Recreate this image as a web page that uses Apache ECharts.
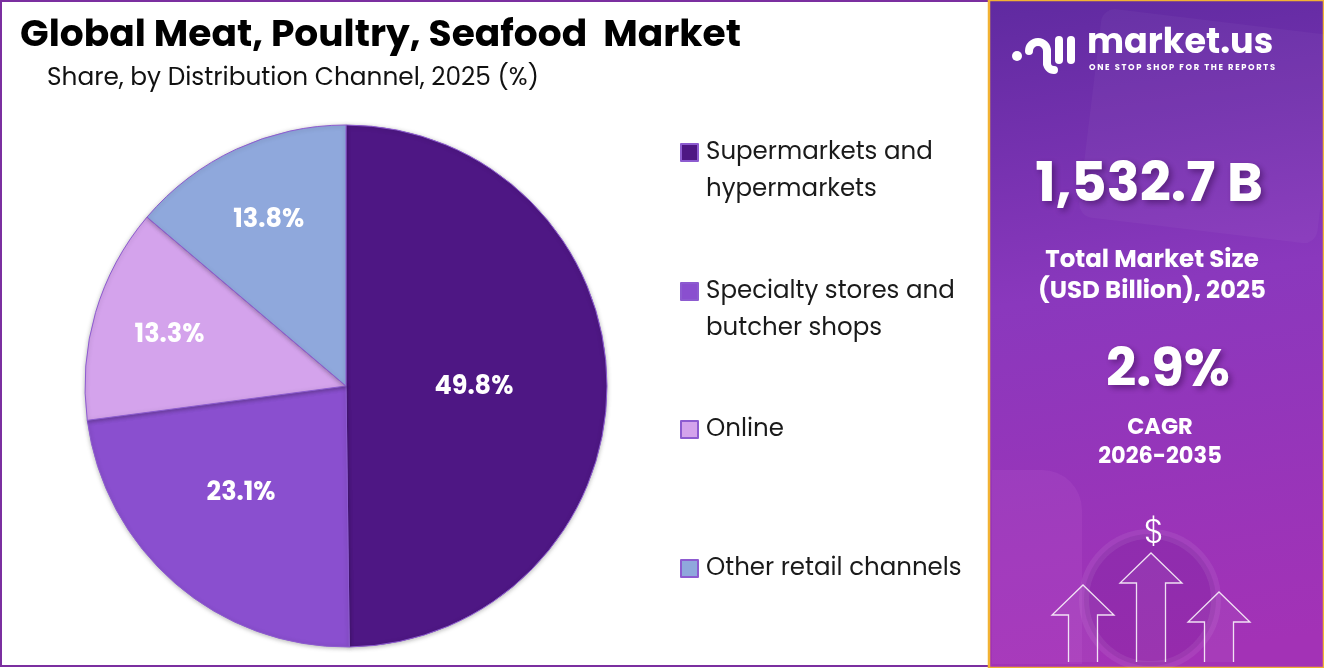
<!DOCTYPE html>
<html>
<head>
	<meta charset="UTF-8">
	<title>Global Meat, Poultry, Seafood Market</title>
	<script type="text/javascript" src="https://cdn.jsdelivr.net/npm/echarts@6/dist/echarts.min.js"></script>
	<style>
		html, body { margin: 0; padding: 0; background: #fff; }
		#chart_box { width: 1324px; height: 668px; }
	</style>
</head>
<body>
<div id="chart_box"></div>
<script>
	// 数据
	var channelNames = ['Supermarkets and\nhypermarkets', 'Specialty stores and\nbutcher shops', 'Online', 'Other retail channels'];
	var channelShares = [49.8, 23.1, 13.3, 13.8];
	var channelColors = ['#4e1784', '#8a4fcf', '#d4a3ec', '#8fa8dc'];
	var marketSize = '1,532.7 B';
	var cagrValue = '2.9%';
	var cagrPeriod = '2026-2035';

	var fontMain = 'Poppins, Inter, "Open Sans", sans-serif';
	var pieCenter = [346, 386];
	var pieRadius = 261;
	var labelDist = [0.49, 0.57, 0.705, 0.705];   // 标签到圆心的距离（半径比例）
	var labelTurn = [0, 0.07, 0, 0];              // 标签角度微调（弧度）
	var legendTops = [97, 236, 411, 550];

	var total = channelShares.reduce(function (a, b) { return a + b; }, 0);
	var midAngles = [];
	var acc = 0;
	channelShares.forEach(function (v) {
		midAngles.push((acc + v / 2) / total * Math.PI * 2);
		acc += v;
	});

	var myChart = echarts.init(document.getElementById('chart_box'));

	// 图例：每项单独一个，两行的项前面加空行，使第一行与色块对齐
	var legends = channelNames.map(function (name, i) {
		return {
			orient: 'vertical',
			left: 680,
			top: legendTops[i],
			padding: 0,
			itemWidth: 17,
			itemHeight: 17,
			itemGap: 0,
			icon: 'rect',
			selectedMode: false,
			data: [name],
			formatter: function (n) {
				return n.indexOf('\n') >= 0 ? '\n' + n : n;
			},
			textStyle: {
				fontFamily: fontMain,
				fontSize: 24.5,
				lineHeight: 37,
				color: '#1a1a1a',
				padding: [0, 0, 0, 3]
			}
		};
	});

	// 右侧面板装饰箭头
	function arrow(cx, tipY, baseY) {
		var hw = 31, sw = 14.5, headH = 30;
		return {
			type: 'polyline',
			z: 5,
			shape: {
				points: [
					[cx - sw, baseY], [cx - sw, tipY + headH], [cx - hw, tipY + headH], [cx, tipY],
					[cx + hw, tipY + headH], [cx + sw, tipY + headH], [cx + sw, baseY]
				]
			},
			style: { stroke: 'rgba(255,255,255,0.85)', lineWidth: 1.3, fill: 'rgba(255,255,255,0.05)' }
		};
	}

	var tagline = 'ONE STOP SHOP FOR THE REPORTS'.split('').join('\u2009');

	var option = {
		backgroundColor: '#ffffff',
		color: channelColors,
		animation: false,
		title: [{
			text: 'Global Meat, Poultry, Seafood  Market',
			left: 15,
			top: 13,
			textStyle: { fontFamily: fontMain, fontSize: 37.6, fontWeight: 'bold', color: '#000' }
		}, {
			text: 'Share, by Distribution Channel, 2025 (%)',
			left: 42,
			top: 61,
			textStyle: { fontFamily: fontMain, fontSize: 24.8, fontWeight: 'normal', color: '#111' }
		}],
		legend: legends,
		graphic: [
			// 左侧紫色边框
			{ type: 'rect', shape: { x: 1, y: 1, width: 988, height: 665 }, style: { fill: 'none', stroke: '#7b2fa0', lineWidth: 2 }, z: 0 },
			// 右侧面板
			{
				type: 'rect', shape: { x: 989, y: 0, width: 335, height: 668 },
				style: {
					fill: new echarts.graphic.LinearGradient(0, 0, 0.3, 1, [
						{ offset: 0, color: '#5f2aa0' },
						{ offset: 0.45, color: '#8a38bd' },
						{ offset: 1, color: '#a332b6' }
					]),
					stroke: '#f2b233', lineWidth: 2.5
				},
				z: 1
			},
			{ type: 'rect', shape: { x: 1090, y: 20, width: 240, height: 210, r: 14 }, rotation: -0.12, originX: 1200, originY: 120, style: { fill: 'rgba(255,255,255,0.035)' }, z: 2 },
			{ type: 'circle', shape: { cx: 1150, cy: 600, r: 66 }, style: { fill: 'rgba(70,10,110,0.14)', stroke: 'rgba(255,255,255,0.07)', lineWidth: 10 }, z: 2 },
			{ type: 'rect', shape: { x: 992, y: 470, width: 90, height: 194, r: [0, 40, 0, 0] }, style: { fill: 'rgba(255,170,255,0.07)' }, z: 2 },
			// logo 图形
			{ type: 'circle', shape: { cx: 1017, cy: 56, r: 5 }, style: { fill: '#fff' }, z: 5 },
			{ type: 'arc', shape: { cx: 1038, cy: 51, r: 9, startAngle: Math.PI, endAngle: 0, clockwise: true }, style: { stroke: '#fff', lineWidth: 8, lineCap: 'round', fill: 'none' }, z: 5 },
			{ type: 'line', shape: { x1: 1047, y1: 51, x2: 1047, y2: 63 }, style: { stroke: '#fff', lineWidth: 8, lineCap: 'round' }, z: 5 },
			{ type: 'arc', shape: { cx: 1054, cy: 63, r: 7, startAngle: Math.PI, endAngle: Math.PI / 2, clockwise: false }, style: { stroke: '#fff', lineWidth: 8, lineCap: 'round', fill: 'none' }, z: 5 },
			{ type: 'line', shape: { x1: 1059, y1: 40, x2: 1059, y2: 60 }, style: { stroke: '#fff', lineWidth: 8, lineCap: 'round' }, z: 5 },
			{ type: 'line', shape: { x1: 1071, y1: 40, x2: 1071, y2: 60 }, style: { stroke: '#fff', lineWidth: 8, lineCap: 'round' }, z: 5 },
			{ type: 'text', left: 1087, top: 27, z: 5, style: { text: 'market.us', fill: '#fff', font: 'bold 35px ' + fontMain } },
			{ type: 'text', left: 1089, top: 64, z: 5, style: { text: tagline, fill: '#fff', font: 'bold 8.3px ' + fontMain } },
			// 指标
			{ type: 'text', z: 5, style: { x: 1149, y: 187, text: marketSize, align: 'center', verticalAlign: 'middle', fill: '#fff', font: 'bold 54.5px ' + fontMain, textShadowColor: 'rgba(40,0,60,0.45)', textShadowBlur: 6, textShadowOffsetX: 3, textShadowOffsetY: 3 } },
			{ type: 'text', z: 5, style: { x: 1152, y: 276, text: 'Total Market Size\n(USD Billion), 2025', align: 'center', verticalAlign: 'middle', lineHeight: 31, fill: '#fff', font: 'bold 24.5px ' + fontMain } },
			{ type: 'text', z: 5, style: { x: 1168, y: 373, text: cagrValue, align: 'center', verticalAlign: 'middle', fill: '#fff', font: 'bold 53px ' + fontMain, textShadowColor: 'rgba(40,0,60,0.45)', textShadowBlur: 6, textShadowOffsetX: 3, textShadowOffsetY: 3 } },
			{ type: 'text', z: 5, style: { x: 1160, y: 443, text: 'CAGR\n' + cagrPeriod, align: 'center', verticalAlign: 'middle', lineHeight: 29, fill: '#fff', font: 'bold 22.5px ' + fontMain } },
			{ type: 'text', z: 5, style: { x: 1154, y: 534, text: '$', align: 'center', verticalAlign: 'middle', fill: '#fff', font: '300 34px ' + fontMain } },
			arrow(1083, 585, 662),
			arrow(1151, 553, 662),
			arrow(1219, 592, 662)
		],
		series: [{
			name: 'Distribution Channel',
			type: 'pie',
			center: pieCenter,
			radius: pieRadius,
			startAngle: 90,
			clockwise: true,
			silent: true,
			itemStyle: {
				borderColor: '#8d5bd0',
				borderWidth: 1,
				shadowBlur: 4,
				shadowColor: 'rgba(0,0,0,0.25)',
				shadowOffsetY: 1
			},
			label: {
				show: true,
				position: 'inside',
				formatter: function (p) { return p.value.toFixed(1) + '%'; },
				color: '#fff',
				fontFamily: fontMain,
				fontWeight: 'bold',
				fontSize: 25.5
			},
			labelLine: { show: false },
			labelLayout: function (p) {
				var a = midAngles[p.dataIndex] + labelTurn[p.dataIndex];
				var d = labelDist[p.dataIndex] * pieRadius;
				return {
					x: pieCenter[0] + d * Math.sin(a),
					y: pieCenter[1] - d * Math.cos(a) + 2,
					align: 'center',
					verticalAlign: 'middle'
				};
			},
			data: channelNames.map(function (n, i) {
				return { name: n, value: channelShares[i] };
			})
		}]
	};

	myChart.setOption(option);
	window.addEventListener('resize', function () {
		myChart.resize();
	});
</script>
</body>
</html>
